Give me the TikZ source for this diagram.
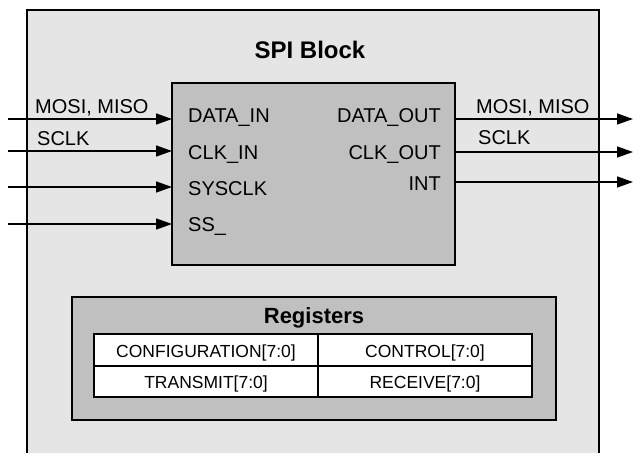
\documentclass[tikz,border=0pt]{standalone}
\usepackage{fontspec}
\setmainfont{Liberation Sans}
\usetikzlibrary{arrows.meta}
\definecolor{outerfill}{RGB}{229,229,229}
\definecolor{blockfill}{RGB}{192,192,192}
\tikzset{
  sig/.style={line width=1.5pt,-{Triangle[length=16pt,width=11pt]}},
  lbl/.style={inner sep=0pt,font=\fontsize{20}{23}\selectfont},
  cell/.style={inner sep=0pt,font=\fontsize{17.5}{20}\selectfont,anchor=base},
  frame/.style={draw=black,line width=1.3pt}
}
\begin{document}
\begin{tikzpicture}[x=1pt,y=-1pt]
\useasboundingbox (0,0) rectangle (633,453);
\clip (0,0) rectangle (633,453);
\fill[white] (0,0) rectangle (633,453);
% outer block
\draw[frame,fill=outerfill] (27,10) rectangle (599,470);
\node[inner sep=0pt,anchor=base,font=\fontsize{24}{28}\selectfont\bfseries] (title) at (310,58) {SPI Block};
% inner block
\draw[frame,fill=blockfill] (172,83) rectangle (455,265);
\coordinate (blkW1) at (172,119);
\coordinate (blkW2) at (172,151);
\coordinate (blkW3) at (172,187);
\coordinate (blkW4) at (172,224);
\coordinate (blkE1) at (455,119);
\coordinate (blkE2) at (455,152);
\coordinate (blkE3) at (455,182);
\coordinate (in1) at (8,119);
\coordinate (in2) at (8,151);
\coordinate (in3) at (8,187);
\coordinate (in4) at (8,224);
\coordinate (out1) at (633,119);
\coordinate (out2) at (633,152);
\coordinate (out3) at (633,182);
\draw[sig] (in1) -- (blkW1);
\draw[sig] (in2) -- (blkW2);
\draw[sig] (in3) -- (blkW3);
\draw[sig] (in4) -- (blkW4);
\draw[sig] (blkE1) -- (out1);
\draw[sig] (blkE2) -- (out2);
\draw[sig] (blkE3) -- (out3);
% signal labels
\node[lbl,anchor=base west] (lmosi) at (35,113) {MOSI, MISO};
\node[lbl,anchor=base west] (lsclk) at (37,145) {SCLK};
\node[lbl,anchor=base west] (rmosi) at (476,113) {MOSI, MISO};
\node[lbl,anchor=base west] (rsclk) at (478,144) {SCLK};
% port labels
\node[lbl,anchor=base west] (pdin) at (188,122) {DATA\_IN};
\node[lbl,anchor=base west] (pclkin) at (188,159) {CLK\_IN};
\node[lbl,anchor=base west] (psys) at (188,195) {SYSCLK};
\node[lbl,anchor=base west] (pss) at (188,231) {SS\_};
\node[lbl,anchor=base east] (pdout) at (441,122) {DATA\_OUT};
\node[lbl,anchor=base east] (pclkout) at (441,159) {CLK\_OUT};
\node[lbl,anchor=base east] (pint) at (441,190) {INT};
% registers
\draw[frame,fill=blockfill] (72,297) rectangle (556,420);
\node[inner sep=0pt,anchor=base,font=\fontsize{22}{26}\selectfont\bfseries] (regs) at (314,323) {Registers};
\draw[frame,fill=white] (94,334) rectangle (532,397);
\draw[frame] (94,366) -- (532,366);
\draw[frame] (318,334) -- (318,397);
\node[cell] (cfg) at (206,357) {CONFIGURATION[7:0]};
\node[cell] (ctl) at (425,357) {CONTROL[7:0]};
\node[cell] (tx) at (206,388) {TRANSMIT[7:0]};
\node[cell] (rx) at (425,388) {RECEIVE[7:0]};
\end{tikzpicture}
\end{document}
